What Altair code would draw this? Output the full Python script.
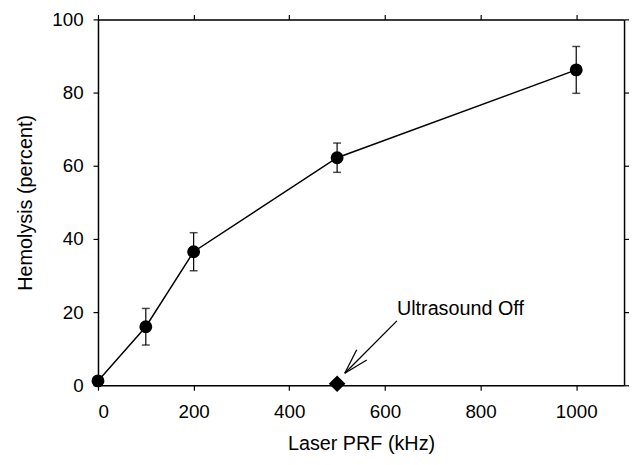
import altair as alt
import pandas as pd

# Data
prf = [0, 100, 200, 500, 1000]
hemolysis = [1.2, 16.0, 36.5, 62.2, 86.2]
err = [1.0, 5.0, 5.2, 4.0, 6.4]

off_x = [500]
off_y = [0.4]

# annotation (data units)
label_text = ["Ultrasound Off"]
label_x = [625]
label_y = [19.3]
arrow_x = [625, 516]
arrow_y = [17.6, 3.3]
head1_x = [516, 541]
head1_y = [3.3, 9.7]
head2_x = [516, 562]
head2_y = [3.3, 6.9]

x_ticks = [0, 200, 400, 600, 800, 1000]
y_ticks = [0, 20, 40, 60, 80, 100]

FONT = "Liberation Sans"

df = pd.DataFrame({"x": prf, "y": hemolysis, "lo": [a - b for a, b in zip(hemolysis, err)],
                   "hi": [a + b for a, b in zip(hemolysis, err)]})
df_off = pd.DataFrame({"x": off_x, "y": off_y})
df_lab = pd.DataFrame({"x": label_x, "y": label_y, "t": label_text})
df_arrow = pd.DataFrame({"x": arrow_x[:1], "y": arrow_y[:1], "x2": arrow_x[1:], "y2": arrow_y[1:]})
df_heads = pd.DataFrame({"x": [head1_x[0], head2_x[0]], "y": [head1_y[0], head2_y[0]],
                         "x2": [head1_x[1], head2_x[1]], "y2": [head1_y[1], head2_y[1]]})

xs = alt.Scale(domain=[0, 1100], nice=False, zero=False)
ys = alt.Scale(domain=[0, 100], nice=False, zero=False)

common_axis = dict(labelFont=FONT, titleFont=FONT, labelFontSize=19, titleFontSize=20,
                   titleFontWeight="normal", labelColor="black", titleColor="black",
                   domainColor="black", domainWidth=1.5, tickColor="black", tickWidth=1.2,
                   tickSize=5, grid=False, format="d")

x_bottom = alt.X("x:Q", scale=xs, axis=alt.Axis(title="Laser PRF (kHz)", values=x_ticks,
                                                 labelPadding=13, titlePadding=12, **common_axis))
y_left = alt.Y("y:Q", scale=ys, axis=alt.Axis(title="Hemolysis (percent)", values=y_ticks,
                                               labelPadding=10, titlePadding=17, **common_axis))


def X(field):
    return alt.X(field, scale=xs, axis=None)


def Y(field):
    return alt.Y(field, scale=ys, axis=None)


line = alt.Chart(df).mark_line(color="black", strokeWidth=1.5).encode(x=x_bottom, y=y_left)

bars = alt.Chart(df).mark_rule(color="black", strokeWidth=1.2).encode(
    x=X("x:Q"), y=Y("lo:Q"), y2="hi:Q")
cap_lo = alt.Chart(df).mark_tick(color="black", orient="horizontal", size=8, thickness=1.5).encode(
    x=X("x:Q"), y=Y("lo:Q"))
cap_hi = alt.Chart(df).mark_tick(color="black", orient="horizontal", size=8, thickness=1.5).encode(
    x=X("x:Q"), y=Y("hi:Q"))
pts = alt.Chart(df).mark_point(shape="circle", filled=True, color="black", size=170, opacity=1).encode(
    x=X("x:Q"), y=Y("y:Q"))
diamond = alt.Chart(df_off).mark_point(shape="diamond", filled=True, color="black", size=280, opacity=1).encode(
    x=X("x:Q"), y=Y("y:Q"))

arrow = alt.Chart(df_arrow).mark_rule(color="black", strokeWidth=1.3).encode(
    x=X("x:Q"), y=Y("y:Q"), x2="x2:Q", y2="y2:Q")
heads = alt.Chart(df_heads).mark_rule(color="black", strokeWidth=1.3).encode(
    x=X("x:Q"), y=Y("y:Q"), x2="x2:Q", y2="y2:Q")
label = alt.Chart(df_lab).mark_text(font=FONT, fontSize=20, color="black", align="left",
                                    baseline="alphabetic").encode(
    x=X("x:Q"), y=Y("y:Q"), text="t:N")

# frame axes: top and right with ticks, no labels
frame = alt.Chart(df).mark_point(opacity=0).encode(
    x=alt.X("x:Q", scale=xs, axis=alt.Axis(orient="top", title=None, labels=False, values=x_ticks,
                                            domainColor="black", domainWidth=1.5, tickColor="black",
                                            tickWidth=1.2, tickSize=5, grid=False)),
    y=alt.Y("y:Q", scale=ys, axis=alt.Axis(orient="right", title=None, labels=False, values=y_ticks,
                                            domainColor="black", domainWidth=1.5, tickColor="black",
                                            tickWidth=1.2, tickSize=5, grid=False)))

chart = alt.layer(line, frame, bars, cap_lo, cap_hi, pts, diamond, arrow, heads, label).resolve_axis(
    x="independent", y="independent"
).properties(
    width=532, height=370,
    autosize=alt.AutoSizeParams(type="none"),
    padding={"left": 91, "top": 9, "right": 5, "bottom": 70},
).configure_view(stroke=None).configure(background="white")

chart.save("out.html", embed_options={"renderer": "svg", "actions": False})
